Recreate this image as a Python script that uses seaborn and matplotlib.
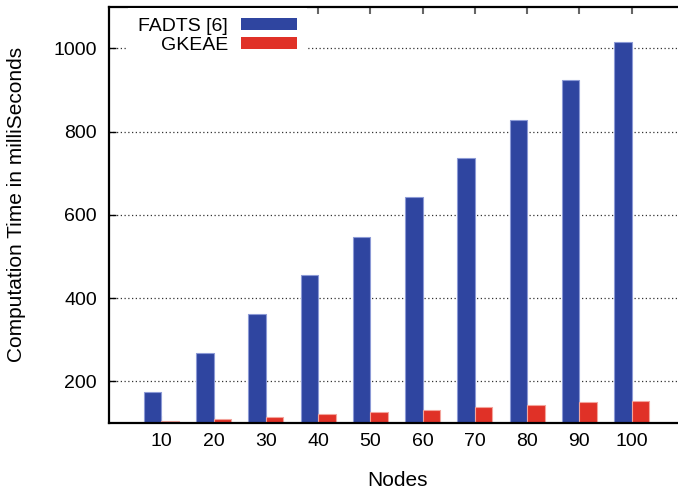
import matplotlib
matplotlib.use("Agg")
import matplotlib.pyplot as plt
import seaborn as sns
import pandas as pd

# Computation time (ms) per network size
nodes = [10, 20, 30, 40, 50, 60, 70, 80, 90, 100]
fadts_ms = [175, 268, 362, 455, 548, 642, 736, 829, 923, 1016]
gkeae_ms = [105, 109, 114, 121, 127, 131, 138, 143, 150, 152]
series_names = ["FADTS [6]", "GKEAE"]
y_ticks = [200, 400, 600, 800, 1000]

node_labels = [str(n) for n in nodes]
df = pd.DataFrame({
    "Nodes": node_labels * 2,
    "Time": fadts_ms + gkeae_ms,
    "Method": [series_names[0]] * len(nodes) + [series_names[1]] * len(nodes),
})

BLUE = "#2f45a0"
RED = "#e03127"
EDGES = ["#8c9ad6", "#f3a49c"]

sns.set_style("white")
plt.rcParams["font.family"] = ["Liberation Sans", "DejaVu Sans"]
plt.rcParams["text.color"] = "black"
plt.rcParams["axes.labelcolor"] = "black"
plt.rcParams["xtick.color"] = "black"
plt.rcParams["ytick.color"] = "black"

fig = plt.figure(figsize=(6.78, 4.92), dpi=100)
ax = fig.add_axes([0.1608, 0.1402, 0.848, 0.8462])

sns.barplot(
    data=df, x="Nodes", y="Time", hue="Method",
    order=node_labels, hue_order=series_names,
    palette=[BLUE, RED], saturation=1,
    width=2 / 3, gap=0, ax=ax, zorder=2,
)

for container, ec in zip(ax.containers, EDGES):
    for bar in container:
        bar.set_edgecolor(ec)
        bar.set_linewidth(0.8)

ax.set_xlim(-1, len(nodes))
ax.set_ylim(100, 1100)
ax.set_yticks(y_ticks)

# dotted horizontal grid behind the bars
ax.set_axisbelow(True)
ax.yaxis.grid(True, linestyle=(0, (1, 2)), color="#333333", linewidth=0.9)
ax.xaxis.grid(False)

for side in ["left", "bottom", "top"]:
    ax.spines[side].set_visible(True)
    ax.spines[side].set_color("black")
    ax.spines[side].set_linewidth(1.6)
ax.spines["right"].set_visible(False)

ax.tick_params(axis="y", direction="in", length=5, width=1, color="black",
               labelcolor="black", labelsize=14, pad=8.6, left=True, right=False)
ax.tick_params(axis="x", direction="in", length=5, width=1.5, color="#666666",
               labelcolor="black", labelsize=14, pad=7.0, bottom=True, top=True)

ax.set_xlabel("Nodes", fontsize=15, color="black")
ax.set_ylabel("Computation Time in milliSeconds", fontsize=15, color="black")
ax.xaxis.label.set_va("center")
ax.yaxis.label.set_va("center")
ax.xaxis.set_label_coords(0.5026, -0.137)
ax.yaxis.set_label_coords(-0.161, 0.526)

handles, labels = ax.get_legend_handles_labels()
old = ax.get_legend()
if old is not None:
    old.remove()
leg = ax.legend(
    handles, labels,
    loc="upper right", bbox_to_anchor=(307 / 678, 0.984),
    bbox_transform=fig.transFigure,
    markerfirst=False, fontsize=14,
    handlelength=2.9, handleheight=0.58, handletextpad=0.67,
    labelspacing=0.1, borderpad=0.5, borderaxespad=0,
    frameon=True, fancybox=False, framealpha=1,
    facecolor="white", edgecolor="none",
)
for h in leg.legend_handles:
    h.set_edgecolor("none")
for t in leg.get_texts():
    t.set_color("black")

fig.savefig("out.png", dpi=100)
